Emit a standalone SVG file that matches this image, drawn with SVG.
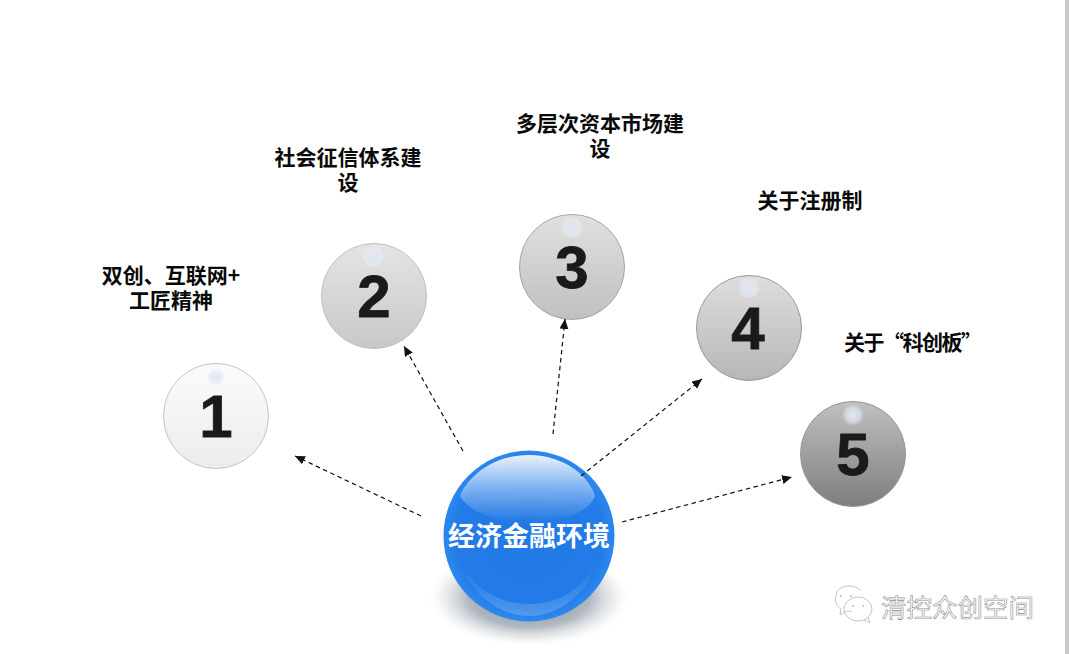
<svg xmlns="http://www.w3.org/2000/svg" width="1069" height="654" viewBox="0 0 1069 654">
<style>
.lb{font-family:"Noto Sans CJK SC","Liberation Sans",sans-serif;font-weight:700;font-size:21px;fill:#0a0a0a;text-anchor:middle}
.num{font-family:"Liberation Sans",Arial,sans-serif;font-weight:700;font-size:60px;fill:#1a1a1a;stroke:#1a1a1a;stroke-width:.8;text-anchor:middle}
.c{stroke:#111;stroke-width:1.2;stroke-dasharray:4.5 3.5;fill:none;marker-end:url(#a)}
.hl{fill:url(#hl)}
</style>
<defs>
<marker id="a" markerUnits="userSpaceOnUse" markerWidth="11" markerHeight="9" refX="10" refY="4.5" orient="auto"><path d="M0 0L10 4.5L0 9z" fill="#111"/></marker>
<radialGradient id="hl"><stop offset="0" stop-color="#dce8f8"/><stop offset=".55" stop-color="#e2e9f4" stop-opacity=".7"/><stop offset="1" stop-color="#fff" stop-opacity="0"/></radialGradient>
<linearGradient id="g1" x1="0" y1="0" x2="0" y2="1"><stop offset="0" stop-color="#fbfbfb"/><stop offset="1" stop-color="#ececec"/></linearGradient>
<linearGradient id="g2" x1="0" y1="0" x2="0" y2="1"><stop offset="0" stop-color="#e4e4e4"/><stop offset="1" stop-color="#c8c8c8"/></linearGradient>
<linearGradient id="g3" x1="0" y1="0" x2="0" y2="1"><stop offset="0" stop-color="#e0e0e0"/><stop offset="1" stop-color="#c0c0c0"/></linearGradient>
<linearGradient id="g4" x1="0" y1="0" x2="0" y2="1"><stop offset="0" stop-color="#dedede"/><stop offset="1" stop-color="#b6b6b6"/></linearGradient>
<linearGradient id="g5" x1="0" y1="0" x2="0" y2="1"><stop offset="0" stop-color="#c0c0c0"/><stop offset="1" stop-color="#7e7e7e"/></linearGradient>
<radialGradient id="blue" cx=".5" cy=".5" r=".5"><stop offset="0" stop-color="#2179e4"/><stop offset=".85" stop-color="#227be6"/><stop offset="1" stop-color="#2c88ee"/></radialGradient>
<linearGradient id="gloss" x1="0" y1="0" x2="0" y2="1"><stop offset="0" stop-color="#fff" stop-opacity=".9"/><stop offset=".45" stop-color="#fff" stop-opacity=".45"/><stop offset="1" stop-color="#fff" stop-opacity="0"/></linearGradient>
<linearGradient id="rim" x1="0" y1="0" x2="0" y2="1"><stop offset="0" stop-color="#fff" stop-opacity="0"/><stop offset="1" stop-color="#fff" stop-opacity=".2"/></linearGradient>
<radialGradient id="sh"><stop offset="0" stop-color="#6b7683"/><stop offset=".6" stop-color="#97a1ac" stop-opacity=".75"/><stop offset=".85" stop-color="#cfd4da" stop-opacity=".35"/><stop offset="1" stop-color="#fff" stop-opacity="0"/></radialGradient>
</defs>
<rect width="1069" height="654" fill="#fff"/>
<rect x="1065" y="0" width="4" height="654" fill="#c9c9c9"/>
<g id="node-1"><circle cx="216" cy="416" r="52.500" fill="url(#g1)" stroke="#c4c4c4"/><circle class="hl" cx="216" cy="377" r="11"/><text class="num" x="216" y="437">1</text></g>
<g id="node-2"><circle cx="374" cy="296" r="52.500" fill="url(#g2)" stroke="#c0c0c0"/><circle class="hl" cx="373" cy="257" r="11"/><text class="num" x="374" y="317">2</text></g>
<g id="node-3"><circle cx="572" cy="267" r="52.500" fill="url(#g3)" stroke="#a6a6a6"/><circle class="hl" cx="572" cy="228" r="11"/><text class="num" x="572" y="288">3</text></g>
<g id="node-4"><circle cx="749" cy="328" r="52.500" fill="url(#g4)" stroke="#9a9a9a"/><circle class="hl" cx="749" cy="288" r="11"/><text class="num" x="748" y="349">4</text></g>
<g id="node-5"><circle cx="853" cy="454" r="52.500" fill="url(#g5)" stroke="#969696"/><circle class="hl" cx="853" cy="415" r="11"/><text class="num" x="853" y="475">5</text></g>
<g id="node-center">
<ellipse cx="529" cy="597" rx="102" ry="50" fill="url(#sh)"/>
<circle cx="529" cy="536" r="85.500" fill="url(#blue)"/>
<path d="M529 455C566 455 590 478 595 496C590 511 565 522 529 522C493 522 468 511 460 496C467 478 492 455 529 455Z" fill="url(#gloss)"/>
<path d="M462 567C478 592 503 604 529 604C557 604 582 590 596 564C588 592 560 616 529 616C498 616 472 592 462 567Z" fill="url(#rim)"/>
<text x="529" y="546" font-family="'Noto Sans CJK SC',sans-serif" font-weight="700" font-size="27" fill="#fff" text-anchor="middle">经济金融环境</text>
</g>
<g id="connectors">
<path class="c" d="M421 516L295 456"/>
<path class="c" d="M463 451L404 346"/>
<path class="c" d="M553 434L565 319"/>
<path class="c" d="M581 476L702 379"/>
<path class="c" d="M622 522L792 477"/>
</g>
<text id="label-1" class="lb"><tspan x="171" y="283">双创、互联网+</tspan><tspan x="171" y="308">工匠精神</tspan></text>
<text id="label-2" class="lb"><tspan x="348" y="165">社会征信体系建</tspan><tspan x="348" y="190">设</tspan></text>
<text id="label-3" class="lb"><tspan x="600" y="131">多层次资本市场建</tspan><tspan x="600" y="156">设</tspan></text>
<text id="label-4" class="lb" x="810" y="208">关于注册制</text>
<text id="label-5" class="lb" x="913" y="350" textLength="138">关于“科创板”</text>
<g id="watermark" fill="none" stroke="#c4c4c4" stroke-width="1">
<path d="M860 590c-6-6-22-6-24 5c-2 7 1 12 5 14l-1 6l7-4c2 0 3 1 5 0"/>
<ellipse cx="858" cy="609" rx="14" ry="12"/><path d="M864 620l6 3l-2-6"/>
<g fill="#bdbdbd" stroke="none"><circle cx="841" cy="596" r="1"/><circle cx="851" cy="596" r="1"/><circle cx="853" cy="606" r="1"/><circle cx="863" cy="606" r="1"/></g>
<text x="881" y="617" font-family="'Noto Sans CJK SC',sans-serif" font-size="25.500" fill="#fff" stroke="#8f8f8f" stroke-width=".6">清控众创空间</text>
</g>
</svg>
